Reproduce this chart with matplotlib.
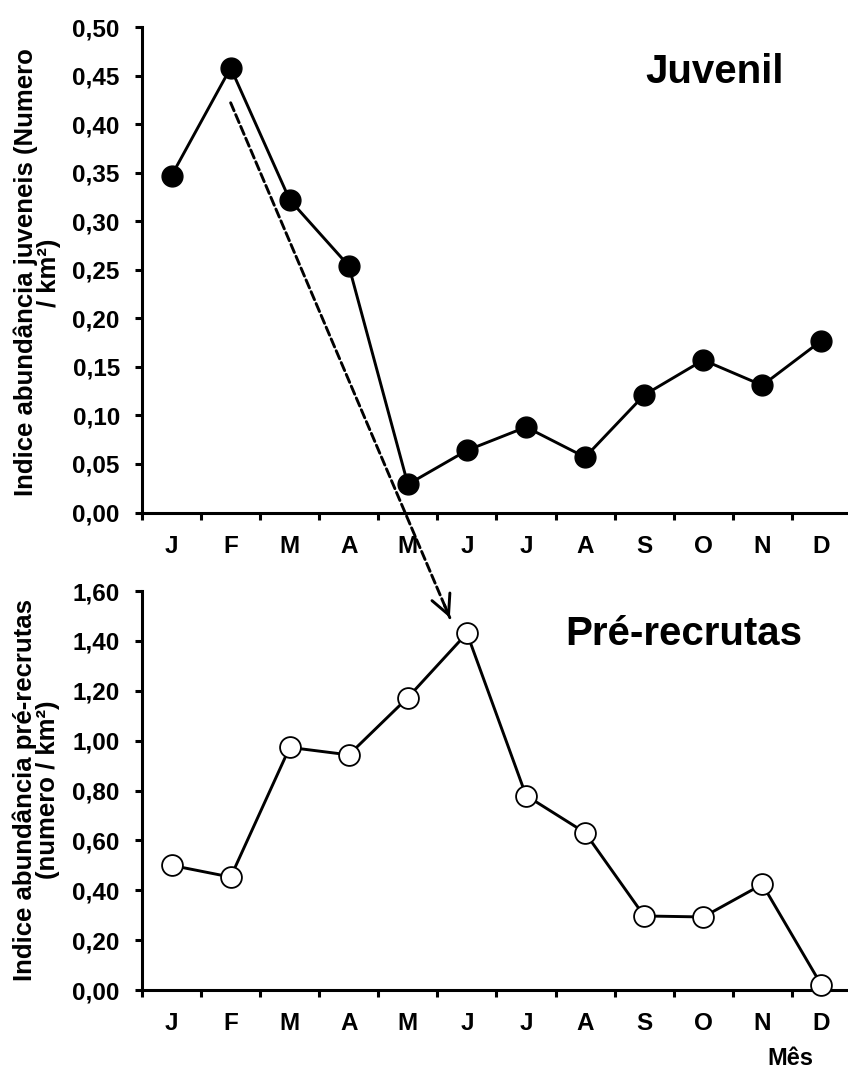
import matplotlib
matplotlib.use("Agg")
import numpy as np
import matplotlib.pyplot as plt
from matplotlib.patches import ConnectionPatch
from matplotlib.ticker import FuncFormatter, MultipleLocator

plt.rcParams['font.family'] = ['Liberation Sans', 'DejaVu Sans']
plt.rcParams['font.weight'] = 'bold'

months = ["J", "F", "M", "A", "M", "J", "J", "A", "S", "O", "N", "D"]
juvenil = [0.347, 0.458, 0.322, 0.254, 0.029, 0.064, 0.088, 0.057, 0.121, 0.157, 0.131, 0.177]
pre_recrutas = [0.50, 0.453, 0.973, 0.943, 1.173, 1.431, 0.78, 0.631, 0.297, 0.293, 0.424, 0.02]

# arrow from the juvenile peak (Feb) towards the pre-recruit peak
arrow_start = (1.0, 0.422)
arrow_end = (4.71, 1.493)

x = np.arange(len(months))
comma = FuncFormatter(lambda v, p: "{:.2f}".format(v).replace(".", ","))

fig = plt.figure(figsize=(8.48, 10.68), dpi=100)
ax1 = fig.add_axes([0.1675, 0.5201, 0.8325, 0.4546])
ax2 = fig.add_axes([0.1675, 0.0730, 0.8325, 0.3736])


def style(ax, ymax, ystep):
    for s in ["top", "right"]:
        ax.spines[s].set_visible(False)
    for s in ["left", "bottom"]:
        ax.spines[s].set_linewidth(2.2)
    ax.set_xlim(-0.5, 11.45)
    ax.set_ylim(0, ymax)
    ax.yaxis.set_major_locator(MultipleLocator(ystep))
    ax.yaxis.set_major_formatter(comma)
    ax.set_xticks(np.arange(-0.5, 11, 1))
    ax.set_xticklabels([])
    ax.set_xticks(x, minor=True)
    ax.set_xticklabels(months, minor=True)
    ax.tick_params(axis="x", which="major", direction="out", length=5, width=2.2)
    ax.tick_params(axis="x", which="minor", length=0, pad=16, labelsize=17.5)
    ax.tick_params(axis="y", direction="out", length=5, width=2.2, pad=11, labelsize=17.5)


ax1.plot(x, juvenil, color="black", lw=2.1, marker="o", ms=15, mfc="black", mec="black",
         clip_on=False, zorder=3)
ax2.plot(x, pre_recrutas, color="black", lw=2.1, marker="o", ms=15, mfc="white", mec="black",
         mew=1.3, clip_on=False, zorder=3)

style(ax1, 0.5, 0.05)
style(ax2, 1.6, 0.2)

fig.text(0.0436, 0.745, "Indice abundância juveneis (Numero\n/ km²)", rotation=90,
         ha="center", va="center", fontsize=18.5, linespacing=0.95)
fig.text(0.0425, 0.2603, "Indice abundância pré-recrutas\n(numero / km²)", rotation=90,
         ha="center", va="center", fontsize=18.5, linespacing=0.95)

fig.text(0.8432, 0.9223, "Juvenil", ha="center", va="baseline", fontsize=29)
fig.text(0.8066, 0.3961, "Pré-recrutas", ha="center", va="baseline", fontsize=29)
fig.text(0.9316, 0.0028, "Mês", ha="center", va="baseline", fontsize=17)

# dashed shaft
con = ConnectionPatch(xyA=arrow_start, coordsA=ax1.transData, xyB=arrow_end, coordsB=ax2.transData,
                      arrowstyle="-", lw=2.1, linestyle=(0, (3.0, 1.4)), color="black")
fig.add_artist(con)
# solid head
pA = ax1.transData.transform(arrow_start)
pB = ax2.transData.transform(arrow_end)
d = (pB - pA) / np.hypot(*(pB - pA))
head_from = fig.transFigure.inverted().transform(pB - d * 14)
head_to = fig.transFigure.inverted().transform(pB)
head = ConnectionPatch(xyA=head_from, coordsA=fig.transFigure, xyB=head_to, coordsB=fig.transFigure,
                       arrowstyle="->,head_length=0.7,head_width=0.35", lw=2.1, color="black",
                       mutation_scale=20)
fig.add_artist(head)

fig.savefig("out.png", dpi=100)
